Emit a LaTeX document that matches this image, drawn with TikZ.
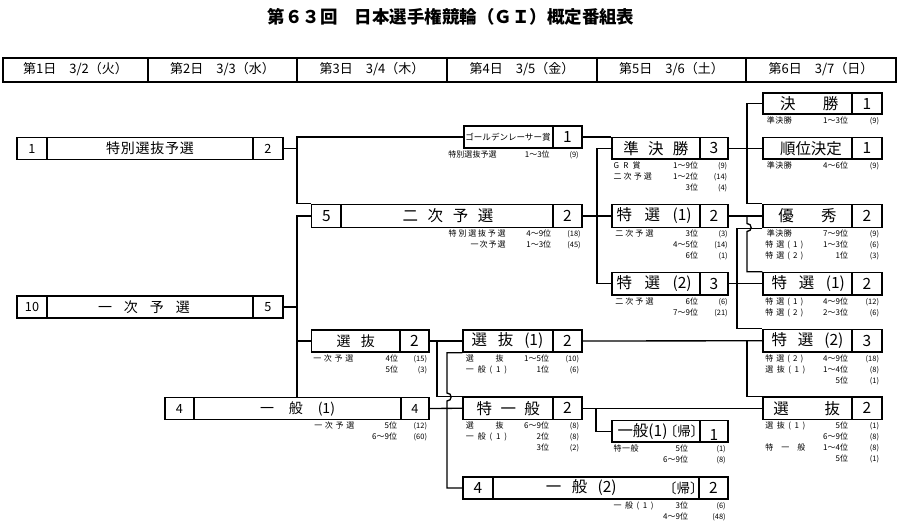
\documentclass[tikz,border=0pt]{standalone}
\usepackage{fontspec}
\setmainfont{Noto Sans CJK JP}
\usetikzlibrary{fit}
\newdimen\pxu \pxu=0.75pt
\newcommand\sprd[2]{\makebox[#1\pxu][s]{#2}}
\newcommand\fsz[1]{\fontsize{#1}{#1}\selectfont}
\newcounter{nn}
\tikzset{
 boxn/.style={draw, line width=1.1pt, inner sep=0pt, rectangle},
 divl/.style={line width=1.1pt},
 conn/.style={line width=1pt},
 ttl/.style={inner sep=0pt, font=\fsz{11.6}},
 ttls/.style={inner sep=0pt, font=\fsz{10.5}},
 dig/.style={inner sep=0pt, font=\fsz{11.6}},
 digs/.style={inner sep=0pt, font=\fsz{9.5}},
 kif/.style={inner sep=0pt, font=\fsz{10.1}},
 grf/.style={inner sep=0pt, font=\fsz{6.4}},
 note/.style={inner sep=0pt, font=\fsz{6}},
 cntf/.style={inner sep=0pt, font=\fsz{5.6}},
 hdr/.style={inner sep=0pt, font=\fsz{9.75}},
}
\newcommand\mkbox[5]{\path (#2,#3) coordinate (#1-nw) (#4,#5) coordinate (#1-se); \node[boxn, fit=(#1-nw)(#1-se)] (#1) {};}
\newcommand\noteL[3]{\stepcounter{nn}\node[note,anchor=base west] (n\arabic{nn}) at (#1,#2+2.8) {#3};}
\newcommand\noteR[3]{\stepcounter{nn}\node[note,anchor=base east] (n\arabic{nn}) at (#1,#2+2.8) {#3};}
\newcommand\noteC[3]{\stepcounter{nn}\node[cntf,anchor=base east] (n\arabic{nn}) at (#1,#2+2.8) {#3};}
\begin{document}
\begin{tikzpicture}[x=0.75pt,y=-0.75pt]
\fill[white] (0,0) rectangle (900,525);
\useasboundingbox (0,0) rectangle (900,525);
% title
\node[inner sep=0pt, font=\bfseries\fsz{13.1}] (title) at (451,17) {第６３回　日本選手権競輪（ＧＩ）概定番組表};
% header
\draw[line width=1.5pt] (3,57.5) rectangle (896,81.5);
\foreach \xx in {148,297,447,597,746} \draw[divl] (\xx,57.5) -- (\xx,81.5);
\node[hdr] (h1) at (75.5,69.5) {第1日　3/2（火）};
\node[hdr] (h2) at (222.5,69.5) {第2日　3/3（水）};
\node[hdr] (h3) at (372,69.5) {第3日　3/4（木）};
\node[hdr] (h4) at (522,69.5) {第4日　3/5（金）};
\node[hdr] (h5) at (671.5,69.5) {第5日　3/6（土）};
\node[hdr] (h6) at (821,69.5) {第6日　3/7（日）};
% boxes
\mkbox{b1}{17}{137.5}{283}{159.5}
\draw[divl] (47,137.5) -- (47,159.5); \draw[divl] (253,137.5) -- (253,159.5);
\mkbox{b10}{17}{296}{283}{318}
\draw[divl] (47,296) -- (47,318); \draw[divl] (253,296) -- (253,318);
\mkbox{gr}{464}{126}{582}{148}
\draw[divl] (553,126) -- (553,148);
\mkbox{ni}{311.5}{204.5}{582}{227.5}
\draw[divl] (341,204.5) -- (341,227.5); \draw[divl] (553,204.5) -- (553,227.5);
\mkbox{sen3}{311.5}{330}{429}{352}
\draw[divl] (400,330) -- (400,352);
\mkbox{ip1}{165}{397.5}{429}{419.5}
\draw[divl] (194,397.5) -- (194,419.5); \draw[divl] (401,397.5) -- (401,419.5);
\mkbox{sen1}{463}{330}{582}{352}
\draw[divl] (553,330) -- (553,352);
\mkbox{toku}{463}{397}{582}{419.5}
\draw[divl] (553,397) -- (553,419.5);
\mkbox{ip2}{463}{477}{728}{499}
\draw[divl] (493,477) -- (493,499); \draw[divl] (699,477) -- (699,499);
\mkbox{jun}{612}{137.5}{728}{159}
\draw[divl] (700,137.5) -- (700,159);
\mkbox{ts1}{612}{204.5}{728}{227.5}
\draw[divl] (700,204.5) -- (700,227.5);
\mkbox{ts2}{612}{272.5}{728}{295}
\draw[divl] (700,272.5) -- (700,295);
\mkbox{ipk}{612}{420.5}{728}{442}
\draw[divl] (700,420.5) -- (700,442);
\mkbox{kes}{763}{93}{882}{114}
\draw[divl] (852,93) -- (852,114);
\mkbox{jui}{763}{137.5}{882}{159}
\draw[divl] (852,137.5) -- (852,159);
\mkbox{yu}{763}{204.5}{882}{227.5}
\draw[divl] (852,204.5) -- (852,227.5);
\mkbox{t61}{763}{272.5}{882}{295}
\draw[divl] (852,272.5) -- (852,295);
\mkbox{t62}{763}{329.5}{882}{352}
\draw[divl] (852,329.5) -- (852,352);
\mkbox{s6}{763}{397}{882}{419.5}
\draw[divl] (852,397) -- (852,419.5);
% junction columns
\coordinate (j297) at (297,0);
\coordinate (j437) at (437,0);
\coordinate (j447) at (447,0);
\coordinate (j596) at (596,0);
\coordinate (j597) at (597,0);
\coordinate (j737) at (737,0);
\coordinate (j747) at (747,0);
% connectors
\draw[conn] (b1.east) -- (b1.east -| j297);
\draw[conn] (gr.west) -| (j297 |- ni.north west) -- (ni.north west);
\draw[conn] (gr.east) -- (gr.east -| jun.west);
\draw[conn] (b10.east) -- (b10.east -| j297);
\draw[conn] (ni.west) -| (j297 |- ip1.north);
\draw[conn] (sen3.west) -- (sen3.west -| j297);
\draw[conn] (ni.east) -- (ni.east -| j597);
\draw[conn] (jun.west) -| (j597 |- ts2.west) -- (ts2.west);
\draw[conn] (ts1.west) -- (ts1.west -| j597);
\draw[conn] (jun.east) -- (jui.west);
\draw[conn] (kes.west) -| (j747 |- yu.north west) -- (yu.north west);
\draw[conn] (ts1.east) -- (yu.west);
\draw[conn] (j747 |- ts1.east) -- (747,223.5) .. controls (752.5,223.5) and (752.5,231.5) .. (747,231.5) |- (t61.north west);
\draw[conn] (ts2.east) -- (t61.west);
\draw[conn] (yu.south west) -| (j737 |- t62.north west) -- (t62.north west);
\draw[conn] (sen3.east) -- (sen1.west);
\draw[conn] (sen3.east -| j437) |- (toku.north west);
\draw[conn] (ip1.east) -- (toku.west);
\draw[conn] (sen1.south west) -| (447,393) .. controls (452.5,393) and (452.5,401) .. (447,401) |- (ip2.west);
\draw[conn] (sen1.east) -- (t62.west);
\draw[conn] (sen1.east -| j747) |- (s6.north west);
\draw[conn] (toku.east) -- (s6.west);
\draw[conn] (toku.east -| j596) |- (ipk.west);
% box titles
\node[ttls] (b1t) at (150,148.5) {\sprd{88}{特\hfill 別\hfill 選\hfill 抜\hfill 予\hfill 選}};
\node[ttls] (b10t) at (144,307) {\sprd{92}{一\hfill 次\hfill 予\hfill 選}};
\node[grf] (grt) at (508,137) {ゴールデンレーサー賞};
\node[ttl] (nit) at (448,216) {\sprd{90.6}{二\hfill 次\hfill 予\hfill 選}};
\node[ttls] (ip1t) at (297.5,408.5) {\sprd{75}{一\hfill 般\hfill (1)}};
\node[ttls] (sen3t) at (355.8,341) {\sprd{38.3}{選\hfill 抜}};
\node[ttl] (sen1t) at (507.5,341) {\sprd{71.6}{選\hfill 抜\hfill (1)}};
\node[ttl] (tokut) at (508.3,408.25) {\sprd{63.3}{特\hfill 一\hfill 般}};
\node[ttl] (ip2t) at (581.3,488) {\sprd{70.7}{一\hfill 般\hfill (2)}};
\node[kif] (ip2k) at (683.3,488) {〔帰〕};
\node[ttl] (junt) at (655.8,148.25) {\sprd{65}{準\hfill 決\hfill 勝}};
\node[ttl] (ts1t) at (654.2,216) {\sprd{75}{特\hfill 選\hfill (1)}};
\node[ttl] (ts2t) at (654.2,283.75) {\sprd{75}{特\hfill 選\hfill (2)}};
\node[ttl] (ipkt) at (642.5,431.25) {一般(1)};
\node[kif] (ipkk) at (684,431.25) {〔帰〕};
\node[ttl] (kest) at (809.2,103.5) {\sprd{58.3}{決\hfill 勝}};
\node[ttl] (juit) at (809.2,148.25) {\sprd{58.3}{順\hfill 位\hfill 決\hfill 定}};
\node[ttl] (yut) at (807.5,216) {\sprd{58.4}{優\hfill 秀}};
\node[ttl] (t61t) at (808.3,283.75) {\sprd{73.3}{特\hfill 選\hfill (1)}};
\node[ttl] (t62t) at (807.5,340.75) {\sprd{71.7}{特\hfill 選\hfill (2)}};
\node[ttl] (s6t) at (806.7,408.25) {\sprd{66.7}{選\hfill 抜}};
% digits
\node[digs] (b1a) at (32,148.5) {1};
\node[digs] (b1b) at (268,148.5) {2};
\node[digs] (b10a) at (32,307) {10};
\node[digs] (b10b) at (268,307) {5};
\node[dig] (gra) at (567.5,137) {1};
\node[dig] (nia) at (326.5,216) {5};
\node[dig] (nib) at (567.5,216) {2};
\node[digs] (ip1a) at (179.5,408.5) {4};
\node[digs] (ip1b) at (415,408.5) {4};
\node[dig] (sen3a) at (414.5,341) {2};
\node[dig] (sen1a) at (567.5,341) {2};
\node[dig] (tokua) at (567.5,408.25) {2};
\node[dig] (ip2a) at (478,488) {4};
\node[dig] (ip2b) at (713.5,488) {2};
\node[dig] (juna) at (714,148.25) {3};
\node[dig] (ts1a) at (714,216) {2};
\node[dig] (ts2a) at (714,283.75) {3};
\node[dig] (ipka) at (714,435) {1};
\node[dig] (kesa) at (867,103.5) {1};
\node[dig] (juia) at (867,148.25) {1};
\node[dig] (yua) at (867,216) {2};
\node[dig] (t61a) at (867,283.75) {2};
\node[dig] (t62a) at (867,340.75) {3};
\node[dig] (s6a) at (867,408.25) {2};
% notes: GR
\noteR{497}{154.5}{\sprd{48.4}{特\hfill 別\hfill 選\hfill 抜\hfill 予\hfill 選}}
\noteR{550}{154.5}{1～3位} \noteC{579}{154.5}{(9)}
% notes: 二次予選
\noteR{506}{234}{\sprd{57}{特\hfill 別\hfill 選\hfill 抜\hfill 予\hfill 選}}
\noteR{551.5}{234}{4～9位} \noteC{581}{234}{(18)}
\noteR{506}{245}{\sprd{35}{一\hfill 次\hfill 予\hfill 選}}
\noteR{551.5}{245}{1～3位} \noteC{581}{245}{(45)}
% notes: 選抜 day3
\noteL{313}{358.5}{\sprd{40}{一\hfill 次\hfill 予\hfill 選}}
\noteR{398.3}{358.5}{4位} \noteC{427.3}{358.5}{(15)}
\noteR{398.3}{369.5}{5位} \noteC{427.3}{369.5}{(3)}
% notes: 一般(1)
\noteL{314}{426}{\sprd{40}{一\hfill 次\hfill 予\hfill 選}}
\noteR{397.3}{426}{5位} \noteC{427.3}{426}{(12)}
\noteR{397.3}{437}{6～9位} \noteC{427.3}{437}{(60)}
% notes: 選抜(1)
\noteL{465.7}{358.5}{\sprd{37.6}{選\hfill 抜}}
\noteR{549.3}{358.5}{1～5位} \noteC{579.3}{358.5}{(10)}
\noteL{465.7}{369.5}{\sprd{41}{一\hfill 般\hfill (\hfill 1\hfill )}}
\noteR{549.3}{369.5}{1位} \noteC{579.3}{369.5}{(6)}
% notes: 特一般
\noteL{465.7}{426}{\sprd{37.6}{選\hfill 抜}}
\noteR{549.3}{426}{6～9位} \noteC{579.3}{426}{(8)}
\noteL{465.7}{437}{\sprd{41}{一\hfill 般\hfill (\hfill 1\hfill )}}
\noteR{549.3}{437}{2位} \noteC{579.3}{437}{(8)}
\noteR{549.3}{448}{3位} \noteC{579.3}{448}{(2)}
% notes: 一般(2)
\noteL{613.3}{505.5}{\sprd{40}{一\hfill 般\hfill (\hfill 1\hfill )}}
\noteR{688.3}{505.5}{3位} \noteC{726}{505.5}{(6)}
\noteR{688.3}{516.5}{4～9位} \noteC{726}{516.5}{(48)}
% notes: 準決勝
\noteL{613.3}{165.5}{\sprd{27}{G\hfill R\hfill 賞}}
\noteR{698.3}{165.5}{1～9位} \noteC{727.5}{165.5}{(9)}
\noteL{613.3}{176.5}{\sprd{38.4}{二\hfill 次\hfill 予\hfill 選}}
\noteR{698.3}{176.5}{1～2位} \noteC{727.5}{176.5}{(14)}
\noteR{698.3}{187.5}{3位} \noteC{727.5}{187.5}{(4)}
% notes: 特選(1) day5
\noteL{615}{234}{\sprd{38.3}{二\hfill 次\hfill 予\hfill 選}}
\noteR{698.3}{234}{3位} \noteC{728}{234}{(3)}
\noteR{698.3}{245}{4～5位} \noteC{728}{245}{(14)}
\noteR{698.3}{256}{6位} \noteC{728}{256}{(1)}
% notes: 特選(2) day5
\noteL{615}{301.5}{\sprd{38.3}{二\hfill 次\hfill 予\hfill 選}}
\noteR{698.3}{301.5}{6位} \noteC{728}{301.5}{(6)}
\noteR{698.3}{312.5}{7～9位} \noteC{728}{312.5}{(21)}
% notes: 一般(1)〔帰〕
\noteL{613.3}{448.5}{\sprd{25}{特\hfill 一\hfill 般}}
\noteR{688.3}{448.5}{5位} \noteC{726}{448.5}{(1)}
\noteR{688.3}{459.5}{6～9位} \noteC{726}{459.5}{(8)}
% notes: 決勝
\noteL{766.7}{120.5}{\sprd{25}{準\hfill 決\hfill 勝}}
\noteR{848.3}{120.5}{1～3位} \noteC{879.3}{120.5}{(9)}
% notes: 順位決定
\noteL{766.7}{165.5}{\sprd{25}{準\hfill 決\hfill 勝}}
\noteR{848.3}{165.5}{4～6位} \noteC{879.3}{165.5}{(9)}
% notes: 優秀
\noteL{766.7}{234}{\sprd{25}{準\hfill 決\hfill 勝}}
\noteR{848.3}{234}{7～9位} \noteC{879.3}{234}{(9)}
\noteL{765}{245}{\sprd{38}{特\hfill 選\hfill (\hfill 1\hfill )}}
\noteR{848.3}{245}{1～3位} \noteC{879.3}{245}{(6)}
\noteL{765}{256}{\sprd{38}{特\hfill 選\hfill (\hfill 2\hfill )}}
\noteR{848.3}{256}{1位} \noteC{879.3}{256}{(3)}
% notes: 特選(1) day6
\noteL{765}{301.5}{\sprd{38}{特\hfill 選\hfill (\hfill 1\hfill )}}
\noteR{848.3}{301.5}{4～9位} \noteC{879.3}{301.5}{(12)}
\noteL{765}{312.5}{\sprd{38}{特\hfill 選\hfill (\hfill 2\hfill )}}
\noteR{848.3}{312.5}{2～3位} \noteC{879.3}{312.5}{(6)}
% notes: 特選(2) day6
\noteL{765}{358.5}{\sprd{38}{特\hfill 選\hfill (\hfill 2\hfill )}}
\noteR{848.3}{358.5}{4～9位} \noteC{879.3}{358.5}{(18)}
\noteL{765}{369.5}{\sprd{40}{選\hfill 抜\hfill (\hfill 1\hfill )}}
\noteR{848.3}{369.5}{1～4位} \noteC{879.3}{369.5}{(8)}
\noteR{848.3}{380.5}{5位} \noteC{879.3}{380.5}{(1)}
% notes: 選抜 day6
\noteL{765}{426}{\sprd{40}{選\hfill 抜\hfill (\hfill 1\hfill )}}
\noteR{848.3}{426}{5位} \noteC{879.3}{426}{(1)}
\noteR{848.3}{437}{6～9位} \noteC{879.3}{437}{(8)}
\noteL{765}{448}{\sprd{40}{特\hfill 一\hfill 般}}
\noteR{848.3}{448}{1～4位} \noteC{879.3}{448}{(8)}
\noteR{848.3}{459}{5位} \noteC{879.3}{459}{(1)}
\end{tikzpicture}
\end{document}
